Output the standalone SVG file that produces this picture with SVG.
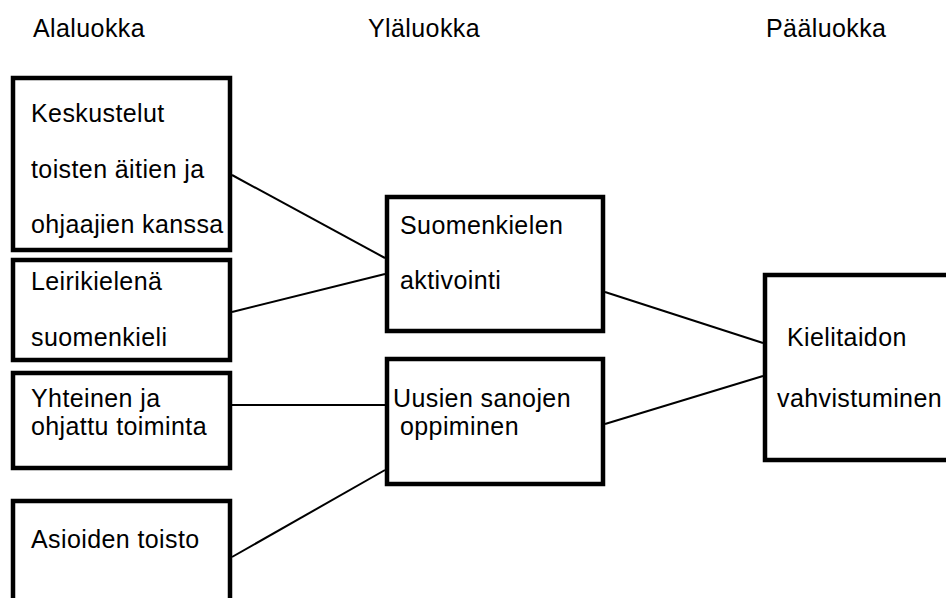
<svg xmlns="http://www.w3.org/2000/svg" width="946" height="598" viewBox="0 0 946 598">
<style>
.box{fill:#fff;stroke:#000;stroke-width:4.5}
.t{font-family:"Liberation Sans",Arial,sans-serif;font-size:25px;letter-spacing:0.4px;fill:#000}
.c{stroke:#000;stroke-width:2;fill:none}
</style>
<rect width="946" height="598" fill="#fff"/>
<g id="headers">
<text class="t" x="33" y="37">Alaluokka</text>
<text class="t" x="368" y="37">Yläluokka</text>
<text class="t" x="766" y="37">Pääluokka</text>
</g>
<g id="connectors">
<line class="c" x1="232" y1="175" x2="385" y2="258"/>
<line class="c" x1="232" y1="312" x2="385" y2="274"/>
<line class="c" x1="225" y1="405" x2="385" y2="405"/>
<line class="c" x1="232" y1="557" x2="385" y2="470"/>
<line class="c" x1="605" y1="292" x2="763" y2="343"/>
<line class="c" x1="605" y1="424" x2="763" y2="376"/>
</g>
<g id="n1">
<rect class="box" x="13" y="78" width="217" height="172"/>
<text class="t" x="31" y="122">Keskustelut</text>
<text class="t" x="31" y="178">toisten äitien ja</text>
<text class="t" x="31" y="233">ohjaajien kanssa</text>
</g>
<g id="n2">
<rect class="box" x="13" y="260" width="217" height="100"/>
<text class="t" x="31" y="290">Leirikielenä</text>
<text class="t" x="31" y="346">suomenkieli</text>
</g>
<g id="n3">
<rect class="box" x="13" y="373" width="217" height="95"/>
<text class="t" x="31" y="407">Yhteinen ja</text>
<text class="t" x="31" y="435">ohjattu toiminta</text>
</g>
<g id="n4">
<rect class="box" x="13" y="501" width="217" height="120"/>
<text class="t" x="31" y="548">Asioiden toisto</text>
</g>
<g id="n5">
<rect class="box" x="387" y="197" width="216" height="134"/>
<text class="t" x="400" y="234">Suomenkielen</text>
<text class="t" x="400" y="289">aktivointi</text>
</g>
<g id="n6">
<rect class="box" x="387" y="359" width="216" height="125"/>
<text class="t" x="393" y="407">Uusien sanojen</text>
<text class="t" x="400" y="435">oppiminen</text>
</g>
<g id="n7">
<rect class="box" x="765" y="275" width="200" height="185"/>
<text class="t" x="787" y="346">Kielitaidon</text>
<text class="t" x="777" y="407">vahvistuminen</text>
</g>
</svg>
